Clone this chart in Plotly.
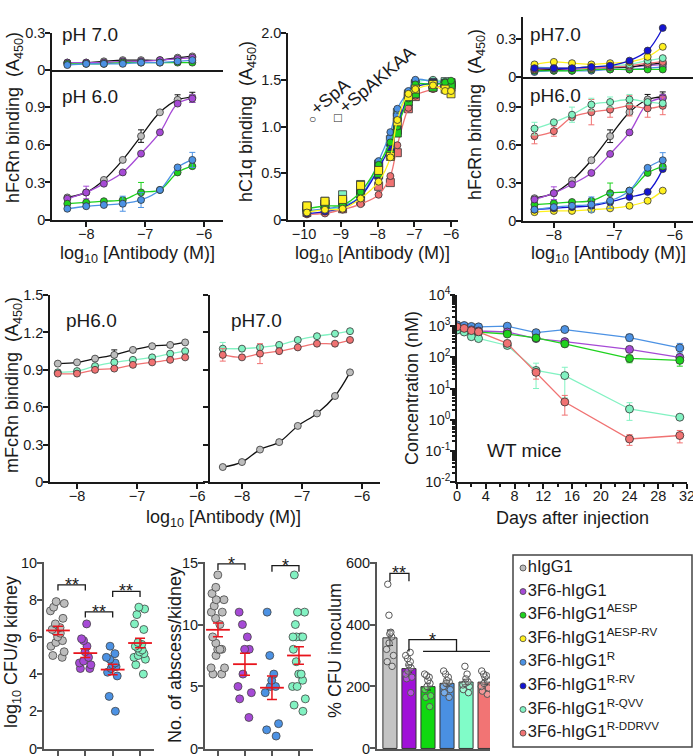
import numpy
import plotly.graph_objects as go

W, H = 693, 756
FONT = 'Liberation Sans, Arial, sans-serif'
INK = '#1a1a1a'
GREY_AX = '#555555'
RED = '#E8141C'

# colours for each antibody variant
COLORS = {
    'hIgG1': '#BDBDBD',
    '3F6': '#A64AD6',
    'AESP': '#1ED21E',
    'AESP-RV': '#FFF01E',
    'R': '#4C92E4',
    'R-RV': '#1414D2',
    'R-QVV': '#82F2C2',
    'R-DDRVV': '#F07272',
}
LINES = dict(COLORS, hIgG1='#111111')

legend_keys = ['hIgG1', '3F6', 'AESP', 'AESP-RV', 'R', 'R-RV', 'R-QVV', 'R-DDRVV']
legend_names = ['hIgG1', '3F6-hIgG1', '3F6-hIgG1<sup>AESP</sup>', '3F6-hIgG1<sup>AESP-RV</sup>',
                '3F6-hIgG1<sup>R</sup>', '3F6-hIgG1<sup>R-RV</sup>', '3F6-hIgG1<sup>R-QVV</sup>',
                '3F6-hIgG1<sup>R-DDRVV</sup>']

# --- hFcRn ELISA (panels A and C), log10 concentration
conc = [-8.32, -8.0, -7.7, -7.38, -7.07, -6.75, -6.45, -6.2]

ph7_hig = [0.06, 0.06, 0.07, 0.08, 0.08, 0.08, 0.10, 0.11]
ph7_3f6 = [0.06, 0.06, 0.06, 0.07, 0.07, 0.08, 0.09, 0.10]
ph7_r = [0.04, 0.05, 0.05, 0.05, 0.06, 0.06, 0.07, 0.08]
ph7_aesp = [0.05, 0.05, 0.05, 0.06, 0.06, 0.06, 0.06, 0.06]
ph7_rrv = [0.07, 0.07, 0.07, 0.08, 0.09, 0.13, 0.21, 0.39]
ph7_aesprv = [0.10, 0.12, 0.11, 0.10, 0.11, 0.12, 0.16, 0.24]
ph7_qvv = [0.08, 0.07, 0.07, 0.08, 0.09, 0.10, 0.13, 0.15]
ph7_ddrvv = [0.06, 0.07, 0.07, 0.07, 0.08, 0.09, 0.11, 0.12]

ph6_hig = [0.18, 0.22, 0.32, 0.48, 0.67, 0.86, 0.96, 0.98]
ph6_3f6 = [0.17, 0.22, 0.29, 0.38, 0.53, 0.70, 0.93, 0.97]
ph6_r = [0.09, 0.11, 0.12, 0.13, 0.16, 0.24, 0.42, 0.48]
ph6_aesp = [0.13, 0.14, 0.15, 0.16, 0.22, 0.24, 0.38, 0.43]
ph6_rrv = [0.09, 0.10, 0.11, 0.12, 0.15, 0.19, 0.23, 0.41]
ph6_aesprv = [0.07, 0.08, 0.08, 0.09, 0.10, 0.12, 0.16, 0.24]
ph6_qvv = [0.73, 0.78, 0.84, 0.92, 0.94, 0.96, 0.94, 0.93]
ph6_ddrvv = [0.67, 0.71, 0.82, 0.86, 0.88, 0.91, 0.89, 0.91]

ph6_hig_err = [None, None, None, None, 0.05, None, 0.04, 0.04]
ph6_3f6_err = [None, 0.05, None, None, None, None, None, 0.03]
ph6_r_err = [None, None, None, 0.06, 0.06, None, None, 0.06]
ph6_aesp_err = [None, None, None, None, 0.08, None, None, None]
ph6_qvv_err = [0.05, None, 0.06, 0.05, 0.04, 0.04, None, None]
ph6_ddrvv_err = [0.06, 0.04, None, 0.10, 0.06, 0.08, 0.07, 0.07]

# --- hC1q binding (panel B)
c1q_conc = [-9.92, -9.43, -8.95, -8.46, -7.97, -7.65, -7.46, -7.16, -6.97, -6.49, -6.16, -6.0]
c1q_spa = {
    'R-DDRVV': [0.06, 0.07, 0.11, 0.17, 0.27, 0.47, 0.80, 1.20, 1.33, 1.40, 1.45, 1.45],
    'R-QVV': [0.09, 0.11, 0.14, 0.26, 0.57, 0.88, 1.14, 1.36, 1.47, 1.50, 1.48, 1.47],
    'R': [0.10, 0.12, 0.15, 0.25, 0.63, 0.94, 1.19, 1.38, 1.50, 1.48, 1.47, 1.45],
    'R-RV': [0.07, 0.09, 0.13, 0.25, 0.55, 0.80, 1.00, 1.33, 1.42, 1.46, 1.45, 1.43],
    'AESP': [0.12, 0.15, 0.16, 0.30, 0.59, 0.83, 1.00, 1.30, 1.45, 1.45, 1.47, 1.49],
    'AESP-RV': [0.08, 0.11, 0.12, 0.23, 0.41, 0.67, 1.07, 1.35, 1.40, 1.44, 1.38, 1.38],
}
c1q_kkaa = {
    'R-DDRVV': [0.08, 0.10, 0.12, 0.20, 0.36, 0.40, 0.72, 1.19, 1.32, 1.42, 1.44, 1.47],
    'R-QVV': [0.15, 0.20, 0.27, 0.38, 0.60, 0.77, 1.15, 1.35, 1.46, 1.45, 1.48, 1.46],
    'R': [0.14, 0.17, 0.20, 0.32, 0.58, 0.86, 1.10, 1.33, 1.45, 1.47, 1.46, 1.44],
    'R-RV': [0.11, 0.14, 0.18, 0.28, 0.48, 0.72, 0.96, 1.30, 1.38, 1.46, 1.44, 1.42],
    'AESP': [0.13, 0.17, 0.20, 0.30, 0.50, 0.70, 0.93, 1.27, 1.35, 1.42, 1.45, 1.44],
    'AESP-RV': [0.15, 0.20, 0.22, 0.37, 0.53, 0.68, 1.05, 1.32, 1.40, 1.45, 1.40, 1.35],
}

# --- mFcRn binding (panel D)
m6_hig = [0.95, 0.96, 0.99, 1.02, 1.06, 1.09, 1.10, 1.12]
m6_qvv = [0.88, 0.89, 0.93, 0.96, 0.98, 1.00, 1.03, 1.05]
m6_ddrvv = [0.87, 0.87, 0.90, 0.91, 0.94, 0.96, 0.98, 1.00]
m6_hig_err = [None, None, None, 0.04, None, None, None, None]
m7_hig = [0.12, 0.16, 0.26, 0.32, 0.45, 0.55, 0.69, 0.88]
m7_qvv = [1.07, 1.07, 1.08, 1.10, 1.14, 1.17, 1.19, 1.21]
m7_ddrvv = [1.02, 1.00, 1.03, 1.05, 1.08, 1.11, 1.11, 1.14]
m7_qvv_err = [0.05, None, None, None, None, None, None, None]
m7_ddrvv_err = [0.05, None, 0.08, None, None, None, None, None]

# --- pharmacokinetics in WT mice (panel E)
days = [0, 1, 2, 3, 7, 11, 15, 24, 31]
pk = {
    'R': [1100, 1050, 980, 950, 1000, 620, 780, 430, 200],
    '3F6': [900, 820, 760, 700, 650, 400, 320, 180, 100],
    'AESP': [800, 700, 640, 640, 560, 420, 270, 92, 80],
    'R-QVV': [750, 650, 460, 400, 240, 38, 26, 2.2, 1.2],
    'R-DDRVV': [950, 850, 720, 660, 280, 33, 3.7, 0.24, 0.31],
}
pk_err_up = {
    'R': [None, None, None, None, None, 60, 120, 120, 80],
    '3F6': [None, None, None, None, None, None, None, 30, 20],
    'AESP': [None, None, None, None, None, None, None, 25, 20],
    'R-QVV': [None, None, None, None, None, 27, 22, 1.3, None],
    'R-DDRVV': [None, None, None, None, None, 7, 2.3, 0.09, 0.14],
}
pk_err_down = {
    'R': [None, None, None, None, None, 60, 100, 100, 60],
    '3F6': [None, None, None, None, None, None, None, 30, 20],
    'AESP': [None, None, None, None, None, None, None, 25, 28],
    'R-QVV': [None, None, None, None, None, 28, 21, 1.25, None],
    'R-DDRVV': [None, None, None, None, None, 13, 2.3, 0.09, 0.13],
}

# --- infection outcomes (panels F, G, H)
kidney_keys = ['hIgG1', '3F6', 'R', 'R-QVV']
cfu_kidney = [
    [7.9, 7.8, 7.6, 7.4, 7.0, 6.7, 6.5, 6.4, 6.3, 6.2, 6.0, 5.8, 5.7, 5.5, 5.2, 5.0, 4.9],
    [6.7, 5.9, 5.8, 5.5, 5.2, 4.9, 4.7, 4.5, 4.3, 4.6, 4.3],
    [5.5, 5.1, 4.9, 4.8, 4.6, 4.5, 4.4, 4.3, 4.1, 3.9, 2.8, 2.0],
    [7.6, 7.5, 7.2, 6.7, 6.4, 5.4, 5.6, 5.1, 4.9, 5.7, 5.5, 5.3, 5.2, 5.0, 4.8, 4.5, 4.0],
]
abscesses = [
    [14, 13, 12.5, 12, 12, 11.5, 11, 11, 10.5, 10, 9, 8.5, 8, 8, 8, 7.5, 6.5, 6.5, 6, 6],
    [11, 10, 9, 8, 8, 6, 5, 4.5, 4, 2.5],
    [11, 7.5, 6, 5.5, 5, 5, 4.5, 2, 1.5, 1],
    [14, 11, 11, 10, 9, 9, 9, 9, 8, 7, 6, 6, 5.5, 5, 5, 4, 3.5, 3],
]
blood_keys = ['hIgG1', '3F6', 'AESP', 'R', 'R-QVV', 'R-DDRVV']
blood_colors = ['#C4C4C4', '#A010D8', '#10D810', '#4A90E2', '#80FCC8', '#F27474']
cfu_inoculum = [
    [530, 430, 375, 370, 360, 340, 320, 300, 280, 265],
    [310, 300, 290, 280, 270, 260, 250, 240, 230, 225, 180],
    [240, 235, 230, 220, 210, 200, 190, 170, 165, 135],
    [250, 240, 230, 220, 215, 210, 200, 190, 180, 165],
    [265, 240, 225, 215, 210, 205, 200, 190, 180],
    [250, 240, 235, 230, 220, 210, 200, 195, 185, 175],
]


def xid(n):
    return 'x' if n == 1 else f'x{n}'


def yid(n):
    return 'y' if n == 1 else f'y{n}'


def axis(n, letter, px, rng, color=INK, width=1.5, **kw):
    if letter == 'x':
        dom = [px[0] / W, px[1] / W]
        anchor = yid(n)
        standoff = -5
    else:
        dom = [1 - px[1] / H, 1 - px[0] / H]
        anchor = xid(n)
        standoff = -3
    d = dict(domain=dom, range=rng, anchor=anchor, showline=True, linecolor=color,
             linewidth=width, ticks='outside', ticklen=5, tickwidth=width, tickcolor=color,
             showgrid=False, zeroline=False, automargin=False, ticklabeloverflow='allow',
             ticklabelstandoff=standoff, tickfont=dict(size=14.5, color=INK, family=FONT))
    d.update(kw)
    key = ('xaxis' if letter == 'x' else 'yaxis') + ('' if n == 1 else str(n))
    return {key: d}


def curve(fig, n, x, y, key, err=None, symbol='circle', size=7, mode='lines+markers',
          shape='spline', line=None, err_minus=None):
    lc = line or LINES[key]
    fig.add_trace(go.Scatter(
        x=x, y=y, mode=mode, xaxis=xid(n), yaxis=yid(n), showlegend=False,
        line=dict(color=lc, width=1.3, shape=shape),
        marker=dict(color=COLORS[key], size=size, symbol=symbol,
                    line=dict(color='#333333', width=0.8)),
        error_y=dict(type='data', array=err, arrayminus=err_minus,
                     symmetric=err_minus is None, visible=err is not None,
                     color=lc, thickness=1, width=3),
    ))


def note(text, x, y, size=18, angle=0, xanchor='center'):
    return dict(text=text, x=x / W, y=1 - y / H, xref='paper', yref='paper', showarrow=False,
                textangle=angle, xanchor=xanchor, yanchor='middle',
                font=dict(size=size, color=INK, family=FONT))


def bracket(n, x0, x1, top, drop):
    return dict(type='path', xref=xid(n), yref=yid(n),
                path=f'M {x0},{drop} L {x0},{top} L {x1},{top} L {x1},{drop}',
                line=dict(color=INK, width=1.3))


def main():
    fig = go.Figure()

    # A: hFcRn, pH 7.0 (top) and pH 6.0 (bottom)
    for y, k in [(ph7_hig, 'hIgG1'), (ph7_3f6, '3F6'), (ph7_aesp, 'AESP'), (ph7_r, 'R')]:
        curve(fig, 1, conc, y, k)
    for y, k, e in [(ph6_hig, 'hIgG1', ph6_hig_err), (ph6_3f6, '3F6', ph6_3f6_err),
                    (ph6_aesp, 'AESP', ph6_aesp_err), (ph6_r, 'R', ph6_r_err)]:
        curve(fig, 2, conc, y, k, err=e)

    # B: hC1q binding with SpA (circles) / SpAKKAA (squares)
    for k in c1q_spa:
        curve(fig, 3, c1q_conc, c1q_kkaa[k], k, symbol='square', size=8, mode='markers')
        curve(fig, 3, c1q_conc, c1q_spa[k], k, size=7)

    # C: all variants
    for y, k in [(ph7_3f6, '3F6'), (ph7_r, 'R'), (ph7_aesp, 'AESP'), (ph7_hig, 'hIgG1'),
                 (ph7_ddrvv, 'R-DDRVV'), (ph7_qvv, 'R-QVV'), (ph7_aesprv, 'AESP-RV'),
                 (ph7_rrv, 'R-RV')]:
        curve(fig, 4, conc, y, k)
    for y, k, e in [(ph6_aesprv, 'AESP-RV', None), (ph6_rrv, 'R-RV', None),
                    (ph6_aesp, 'AESP', ph6_aesp_err), (ph6_r, 'R', ph6_r_err),
                    (ph6_hig, 'hIgG1', ph6_hig_err), (ph6_3f6, '3F6', ph6_3f6_err),
                    (ph6_ddrvv, 'R-DDRVV', ph6_ddrvv_err), (ph6_qvv, 'R-QVV', ph6_qvv_err)]:
        curve(fig, 5, conc, y, k, err=e)

    # D: mFcRn
    curve(fig, 6, conc, m6_hig, 'hIgG1', err=m6_hig_err)
    curve(fig, 6, conc, m6_qvv, 'R-QVV')
    curve(fig, 6, conc, m6_ddrvv, 'R-DDRVV')
    curve(fig, 7, conc, m7_hig, 'hIgG1')
    curve(fig, 7, conc, m7_qvv, 'R-QVV', err=m7_qvv_err)
    curve(fig, 7, conc, m7_ddrvv, 'R-DDRVV', err=m7_ddrvv_err)

    # E: PK
    for k in pk:
        curve(fig, 8, days, pk[k], k, err=pk_err_up[k], err_minus=pk_err_down[k],
              shape='linear', size=8)

    # F and G: dot plots with mean +/- SEM
    for n, groups in [(9, cfu_kidney), (10, abscesses)]:
        means, sems = [], []
        for i, (k, vals) in enumerate(zip(kidney_keys, groups)):
            v = numpy.array(vals, dtype=float)
            means.append(v.mean())
            sems.append(v.std(ddof=1) / numpy.sqrt(len(v)))
            fig.add_trace(go.Box(
                y=vals, x0=i + 1, xaxis=xid(n), yaxis=yid(n), showlegend=False,
                boxpoints='all', jitter=0.9, pointpos=0, width=0.7,
                fillcolor='rgba(0,0,0,0)', line=dict(width=0, color='rgba(0,0,0,0)'),
                marker=dict(color=COLORS[k], size=8, line=dict(color='#444444', width=0.8)),
            ))
        fig.add_trace(go.Scatter(
            x=list(range(1, len(means) + 1)), y=means, mode='markers',
            xaxis=xid(n), yaxis=yid(n), showlegend=False,
            marker=dict(symbol='line-ew', size=17, color=RED, line=dict(color=RED, width=1.8)),
            error_y=dict(type='data', array=sems, color=RED, thickness=1.5, width=5),
        ))

    # H: blood CFU bars with individual points
    h_means = [float(numpy.mean(v)) for v in cfu_inoculum]
    h_sems = [float(numpy.std(v, ddof=1) / numpy.sqrt(len(v))) for v in cfu_inoculum]
    h_pos = list(range(1, len(blood_keys) + 1))
    fig.add_trace(go.Bar(
        x=h_pos, y=h_means, width=0.74, xaxis='x11', yaxis='y11', showlegend=False,
        marker=dict(color=blood_colors, line=dict(color='#333333', width=1)),
        error_y=dict(type='data', array=h_sems, color='#222222', thickness=1.2, width=3),
    ))
    for p, vals in zip(h_pos, cfu_inoculum):
        fig.add_trace(go.Box(
            y=vals, x0=p, xaxis='x11', yaxis='y11', showlegend=False,
            boxpoints='all', jitter=0.8, pointpos=0, width=0.6,
            fillcolor='rgba(0,0,0,0)', line=dict(width=0, color='rgba(0,0,0,0)'),
            marker=dict(color='rgba(255,255,255,0.25)', size=6.5,
                        line=dict(color='#555555', width=1)),
        ))

    # legend panel
    fig.add_trace(go.Scatter(
        x=[0] * len(legend_keys), y=list(range(len(legend_keys))), text=legend_names,
        mode='markers+text', textposition='middle right', xaxis='x12', yaxis='y12',
        showlegend=False, cliponaxis=False,
        marker=dict(color=[COLORS[k] for k in legend_keys], size=6,
                    line=dict(color='#444444', width=0.8)),
        textfont=dict(size=16.5, color=INK, family=FONT),
    ))

    layout = {}
    layout.update(axis(1, 'x', (52, 223), [-8.58, -5.68], ticks='', showticklabels=False))
    layout.update(axis(1, 'y', (33, 70), [0, 0.3], tickvals=[0, 0.3]))
    layout.update(axis(2, 'x', (52, 223), [-8.58, -5.68], dtick=1))
    layout.update(axis(2, 'y', (71, 220), [0, 1.19], dtick=0.3))
    layout.update(axis(3, 'x', (288, 458), [-10.435, -5.81], dtick=1))
    layout.update(axis(3, 'y', (33, 220), [0, 2.0005], tickvals=[0, 0.5, 1, 1.5, 2],
                       ticktext=['0', '0.5', '1.0', '1.5', '2.0']))
    layout.update(axis(4, 'x', (523, 693), [-8.51, -5.70], ticks='', showticklabels=False))
    layout.update(axis(4, 'y', (17, 77), [0, 0.477], tickvals=[0, 0.3]))
    layout.update(axis(5, 'x', (523, 693), [-8.51, -5.70], dtick=1))
    layout.update(axis(5, 'y', (78, 221), [0, 1.13], dtick=0.3))
    layout.update(axis(6, 'x', (50, 205), [-8.45, -5.87], dtick=1))
    layout.update(axis(6, 'y', (295, 482), [0, 1.5005], dtick=0.3))
    layout.update(axis(7, 'x', (210, 380), [-8.533, -5.70], dtick=1))
    layout.update(axis(7, 'y', (295, 482), [0, 1.5005], dtick=0.3, showticklabels=False))
    layout.update(axis(8, 'x', (457, 687), [0, 32], dtick=4, tick0=0,
                       minor=dict(dtick=2, ticks='outside', ticklen=3, tickcolor=INK)))
    layout.update(axis(8, 'y', (295, 482), [-2, 4], type='log',
                       tickvals=[0.01, 0.1, 1, 10, 100, 1000, 10000],
                       ticktext=['10<sup>-2</sup>', '10<sup>-1</sup>', '10<sup>0</sup>',
                                 '10<sup>1</sup>', '10<sup>2</sup>', '10<sup>3</sup>',
                                 '10<sup>4</sup>'],
                       minor=dict(dtick='D1', ticks='outside', ticklen=3, tickcolor=INK)))
    layout.update(axis(9, 'x', (44, 154), [0.49, 4.51], tickvals=[1, 2, 3, 4],
                       showticklabels=False, color=GREY_AX, width=2))
    layout.update(axis(9, 'y', (562, 749), [-0.03, 10.03], tickvals=[0, 2, 4, 6, 8, 10],
                       color=GREY_AX, width=2))
    layout.update(axis(10, 'x', (205, 313), [0.52, 4.52], tickvals=[1, 2, 3, 4],
                       showticklabels=False, color=GREY_AX, width=2))
    layout.update(axis(10, 'y', (562, 749), [-0.045, 15.045], tickvals=[0, 5, 10, 15],
                       color=GREY_AX, width=2))
    layout.update(axis(11, 'x', (377, 490), [0.32, 6.26], ticks='', showticklabels=False,
                       color=GREY_AX, width=2))
    layout.update(axis(11, 'y', (562, 749), [-1.8, 601.8], tickvals=[0, 200, 400, 600],
                       color=GREY_AX, width=2))
    layout.update(axis(12, 'x', (513, 692), [-10, 169], visible=False))
    layout.update(axis(12, 'y', (555, 747), [7.59, -0.55], visible=False))

    annotations = [
        note('pH 7.0', 60, 35, size=19, xanchor='left'),
        note('pH 6.0', 60, 96, size=19, xanchor='left'),
        note('pH7.0', 528, 35, size=19, xanchor='left'),
        note('pH6.0', 528, 95, size=19, xanchor='left'),
        note('pH6.0', 64, 320, size=19, xanchor='left'),
        note('pH7.0', 229, 320, size=19, xanchor='left'),
        note('WT mice', 524, 450, size=19),
        note('+SpA', 330, 97, size=18, angle=-40),
        note('+SpAKKAA', 377, 80, size=18, angle=-40),
        note('\u25cb', 312, 119, size=12),
        note('\u25a1', 338, 118, size=13),
        note('hFcRn binding  (A<sub>450</sub>)', 15, 118, angle=-90),
        note('hC1q binding  (A<sub>450</sub>)', 247, 122, angle=-90),
        note('hFcRn binding  (A<sub>450</sub>)', 477, 115, angle=-90),
        note('mFcRn binding  (A<sub>450</sub>)', 13, 385, angle=-90),
        note('Concentration (nM)', 412, 388, angle=-90),
        note('log<sub>10</sub> CFU/g kidney', 12, 652, angle=-90),
        note('No. of abscess/kidney', 175, 655, angle=-90),
        note('% CFU inoculum', 335, 651, angle=-90),
        note('log<sub>10</sub> [Antibody (M)]', 137, 254),
        note('log<sub>10</sub> [Antibody (M)]', 373, 254),
        note('log<sub>10</sub> [Antibody (M)]', 608, 254),
        note('log<sub>10</sub> [Antibody (M)]', 223, 518),
        note('Days after injection', 572, 518),
    ]
    stars = [(9, 1.5, 8.8, '**'), (9, 2.5, 7.35, '**'), (9, 3.5, 8.45, '**'),
             (10, 1.5, 14.9, '*'), (10, 3.5, 14.75, '*'),
             (11, 1.5, 565, '**'), (11, 3.25, 351, '*')]
    for n, x, y, s in stars:
        annotations.append(dict(text=s, x=x, y=y, xref=xid(n), yref=yid(n), showarrow=False,
                                xanchor='center', yanchor='middle',
                                font=dict(size=18, color=INK, family=FONT)))

    shapes = [
        bracket(9, 1, 2, 8.8, 8.5), bracket(9, 2, 3, 7.35, 7.05), bracket(9, 3, 4, 8.45, 8.15),
        bracket(10, 1, 2, 14.9, 14.4), bracket(10, 3, 4, 14.75, 14.25),
        bracket(11, 1, 2, 565, 540), bracket(11, 2, 4.5, 351, 313),
        dict(type='line', xref='x11', yref='y11', x0=2.74, x1=6.3, y0=313, y1=313,
             line=dict(color=INK, width=1.3)),
        dict(type='rect', xref='paper', yref='paper', x0=513 / W, x1=692 / W,
             y0=1 - 747 / H, y1=1 - 555 / H, line=dict(color='#444444', width=1.5)),
    ]

    fig.update_layout(
        width=W, height=H, margin=dict(l=0, r=0, t=0, b=0, autoexpand=False),
        paper_bgcolor='white', plot_bgcolor='white',
        font=dict(family=FONT, color=INK), showlegend=False,
        annotations=annotations, shapes=shapes, **layout,
    )
    # drop the default page margin so the figure sits at the window corner
    fig.write_html('out.html', config={'displayModeBar': False},
                   post_script="document.body.style.margin = '0';")


if __name__ == '__main__':
    main()
